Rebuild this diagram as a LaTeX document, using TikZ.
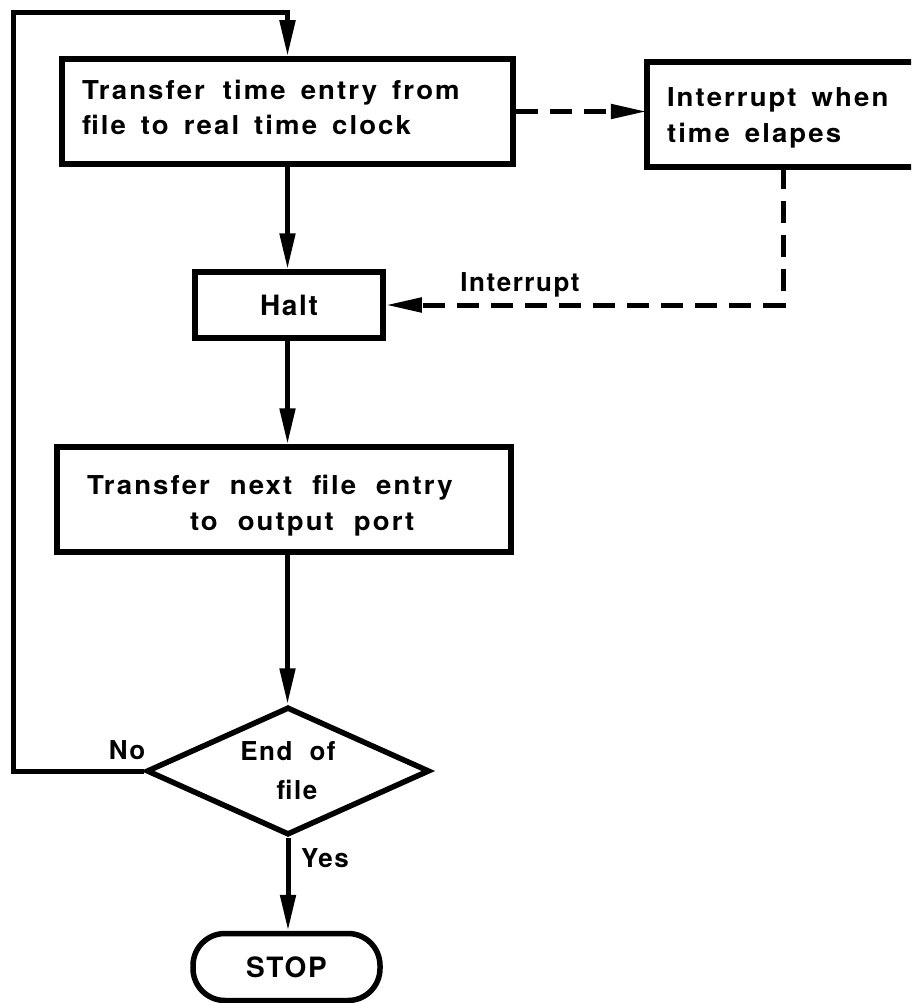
\documentclass[tikz,border=0pt]{standalone}
\usepackage{fontspec}
\setmainfont{TeX Gyre Heros}
\newfontfamily\boxfont[LetterSpace=8,FakeStretch=1.06]{TeX Gyre Heros}
\newfontfamily\lblfont[LetterSpace=6]{TeX Gyre Heros}
\newcommand\mywg[1][15pt]{\hspace*{#1}}
\usetikzlibrary{arrows.meta,shapes.geometric,calc}
\begin{document}
\begin{tikzpicture}[x=1pt,y=-1pt,
  box/.style={draw,line width=5.5pt,rectangle,inner sep=0pt},
  openbox/.style={rectangle,inner sep=0pt},
  edge3/.style={line width=5.5pt,line join=miter},
  conn/.style={line width=5pt,-{Triangle[length=36pt,width=15pt]}},
  dconn/.style={line width=5pt,dash pattern=on 22pt off 12pt,-{Triangle[length=36pt,width=14pt]}},
  lbl/.style={font=\lblfont\fontsize{26}{39}\selectfont\bfseries},
  biglbl/.style={font=\lblfont\fontsize{28}{39}\selectfont\bfseries},
  btext/.style={font=\boxfont\fontsize{26}{35}\selectfont\bfseries,align=left}
]
\useasboundingbox (0,0) rectangle (911,1003);
\fill[white] (0,0) rectangle (911,1003);
\clip (0,0) rectangle (911,1003);

\node[box,btext,minimum height=105pt,text width=411pt,inner xsep=20pt,text depth=44pt] (b1) at (287.5,111.5)
  {Transfer\mywg[18pt]time\mywg entry\mywg from\\file\mywg to\mywg real\mywg time\mywg clock};
\node[openbox,btext,minimum height=105pt,text width=260pt,inner xsep=20pt,text depth=34pt,font=\boxfont\fontsize{26}{36}\selectfont\bfseries] (b2) at (797,114.5)
  {Interrupt\mywg when\\time\mywg elapes};
\draw[edge3] (b2.north east) -- (b2.north west) -- (b2.south west) -- (b2.south east);
\node[box,biglbl,minimum width=188pt,minimum height=66pt] (halt) at (289,305) {Halt};
\node[box,btext,minimum height=105pt,text width=394pt,inner xsep=30pt,text depth=30pt,font=\boxfont\fontsize{26}{36}\selectfont\bfseries] (b3) at (284,499.5)
  {Transfer\mywg[20pt]next\mywg[20pt]file\mywg[20pt]entry\\\hspace*{103pt}to\mywg[20pt]output\mywg[20pt]port};
\node[draw,line width=5.5pt,diamond,aspect=2.2,minimum width=283pt,minimum height=128pt,inner sep=0pt,lbl,align=center] (dia) at (288,771)
  {End\mywg[17pt]of\\\hspace*{18pt}file};
\node[draw,line width=5.5pt,rectangle,rounded corners=32pt,minimum width=187pt,minimum height=67pt,biglbl] (stop) at (286.5,967) {STOP};

\node[lbl] (no) at (127,750) {No};
\node[lbl] (yes) at (325,858) {Yes};
\node[lbl] (intl) at (520,285) {Interrupt};

\coordinate (lp) at (13,13);
\draw[conn] (dia.west) -| (lp) -| (b1.north);
\draw[conn] (b1.south) -- (b1.south |- halt.north);
\draw[conn] (b1.south |- halt.south) -- (b1.south |- b3.north);
\draw[conn] (b1.south |- b3.south) -- (b1.south |- dia.north);
\draw[conn] (dia.south) -- (dia.south |- stop.north);

\draw[dconn] (b1.east) -- (b1.east -| b2.west);
\draw[dconn] (b2.south -| 783,0) |- (halt.east);
\end{tikzpicture}
\end{document}
